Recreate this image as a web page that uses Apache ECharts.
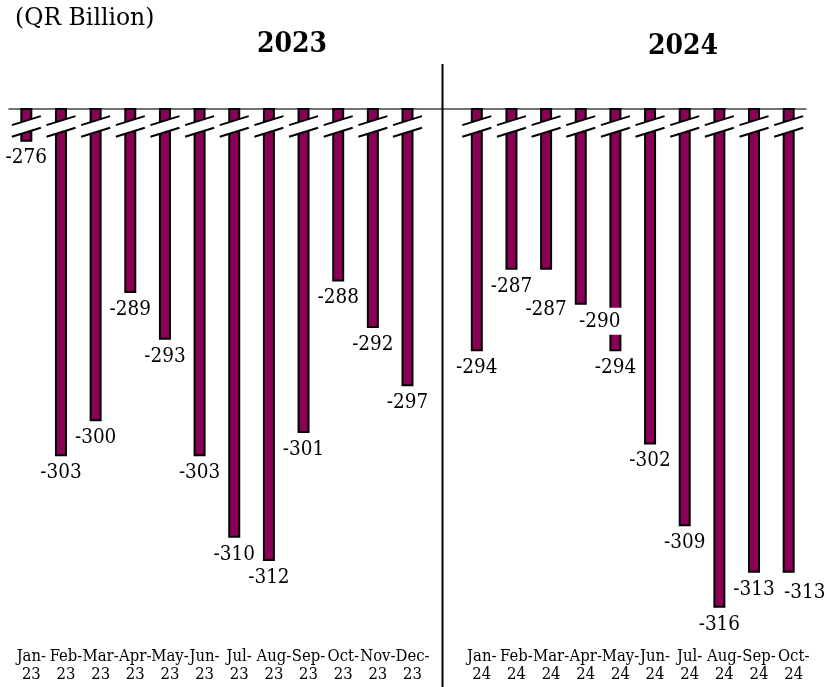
<!DOCTYPE html>
<html>
<head>
<meta charset="utf-8">
<script src="https://cdn.jsdelivr.net/npm/echarts@6/dist/echarts.min.js"></script>
<style>
  html, body { margin: 0; padding: 0; background: #ffffff; }
  #chart { width: 827px; height: 687px; }
</style>
</head>
<body>
<div id="chart"></div>
<script>
// Monthly balances, QR billion
const months2023 = ['Jan-23', 'Feb-23', 'Mar-23', 'Apr-23', 'May-23', 'Jun-23',
                    'Jul-23', 'Aug-23', 'Sep-23', 'Oct-23', 'Nov-23', 'Dec-23'];
const values2023 = [-276, -303, -300, -289, -293, -303, -310, -312, -301, -288, -292, -297];

const months2024 = ['Jan-24', 'Feb-24', 'Mar-24', 'Apr-24', 'May-24',
                    'Jun-24', 'Jul-24', 'Aug-24', 'Sep-24', 'Oct-24'];
const values2024 = [-294, -287, -287, -290, -294, -302, -309, -316, -313, -313];

const yearLabels = ['2023', '2024'];
const unitLabel = '(QR Billion)';

// one empty slot separates the two years
const categories = months2023.concat([''], months2024);
const values = values2023.concat([null], values2024);
const gapIndex = months2023.length;

// a few value labels are nudged so they do not collide
const labelNudge = { 'Mar-24': [0, 23], 'Apr-24': [19, 0], 'Oct-24': [16, 3] };

const FONT = '"DejaVu Serif Condensed", "DejaVu Serif", serif';
const FONT_WIDE = '"DejaVu Serif", serif';
const BAR_COLOR = '#8a0057';
const BREAK_AT = -274.7;   // where the axis break marks cross the bars

const barData = values.map(function (v, i) {
  const nudge = labelNudge[categories[i]];
  return nudge ? { value: v, label: { offset: nudge } } : v;
});

const breakData = [];
values.forEach(function (v, i) {
  if (v !== null) breakData.push([i, BREAK_AT]);
});

const chart = echarts.init(document.getElementById('chart'), null, { renderer: 'canvas' });

chart.setOption({
  animation: false,
  backgroundColor: '#ffffff',
  grid: { left: 9, right: 21, top: 109, height: 536, containLabel: false },
  xAxis: [
    {
      type: 'category',
      data: categories,
      position: 'bottom',
      axisLine: { show: false },
      axisTick: { show: false },
      axisLabel: {
        interval: 0,
        margin: 3,
        color: '#000000',
        fontFamily: FONT,
        fontSize: 16.5,
        lineHeight: 18,
        padding: [0, 0, 0, 10],
        formatter: function (s) { return s ? s.replace('-', '-\n') : ''; }
      }
    },
    {
      type: 'category',
      data: categories,
      position: 'top',
      axisLine: { show: true, lineStyle: { color: '#444444', width: 1.5 } },
      axisTick: { show: false },
      axisLabel: { show: false }
    }
  ],
  yAxis: {
    type: 'value',
    min: -319.2,
    max: -273.2,
    show: false,
    splitLine: { show: false }
  },
  series: [
    {
      type: 'bar',
      xAxisIndex: 0,
      data: barData,
      barWidth: 12,
      clip: true,
      z: 2,
      itemStyle: { color: BAR_COLOR, borderColor: '#000000', borderWidth: 2 },
      label: {
        show: true,
        position: 'bottom',
        distance: 3,
        color: '#000000',
        fontFamily: FONT,
        fontSize: 20.5,
        lineHeight: 21,
        backgroundColor: '#ffffff',
        padding: [3, 3]
      }
    },
    {
      type: 'custom',
      xAxisIndex: 0,
      data: breakData,
      z: 5,
      silent: true,
      renderItem: function (params, api) {
        const p = api.coord([api.value(0), api.value(1)]);
        const half = 14.5, rise = 4.5, gap = 5.85;
        const x0 = p[0] - half, x1 = p[0] + half, y = p[1];
        return {
          type: 'group',
          children: [
            {
              type: 'polygon',
              shape: { points: [[x0, y - gap + rise], [x1, y - gap - rise],
                                [x1, y + gap - rise], [x0, y + gap + rise]] },
              style: { fill: '#ffffff' }
            },
            {
              type: 'line',
              shape: { x1: x0, y1: y - gap + rise, x2: x1, y2: y - gap - rise },
              style: { stroke: '#000000', lineWidth: 2 }
            },
            {
              type: 'line',
              shape: { x1: x0, y1: y + gap + rise, x2: x1, y2: y + gap - rise },
              style: { stroke: '#000000', lineWidth: 2 }
            }
          ]
        };
      }
    }
  ]
});

// divider between the two years, at the empty category slot
const sepX = Math.round(chart.convertToPixel({ xAxisIndex: 0 }, gapIndex)) + 0.5;

chart.setOption({
  graphic: [
    {
      type: 'line',
      silent: true,
      z: 10,
      shape: { x1: sepX, y1: 64, x2: sepX, y2: 687 },
      style: { stroke: '#000000', lineWidth: 2 }
    },
    {
      type: 'text',
      x: 15, y: 19,
      style: {
        text: unitLabel, fill: '#000000',
        font: '23.5px ' + FONT_WIDE,
        align: 'left', verticalAlign: 'middle'
      }
    },
    {
      type: 'text',
      x: 292, y: 45,
      style: {
        text: yearLabels[0], fill: '#000000',
        font: 'bold 28px ' + FONT,
        align: 'center', verticalAlign: 'middle'
      }
    },
    {
      type: 'text',
      x: 683, y: 47,
      style: {
        text: yearLabels[1], fill: '#000000',
        font: 'bold 28px ' + FONT,
        align: 'center', verticalAlign: 'middle'
      }
    }
  ]
});
</script>
</body>
</html>
